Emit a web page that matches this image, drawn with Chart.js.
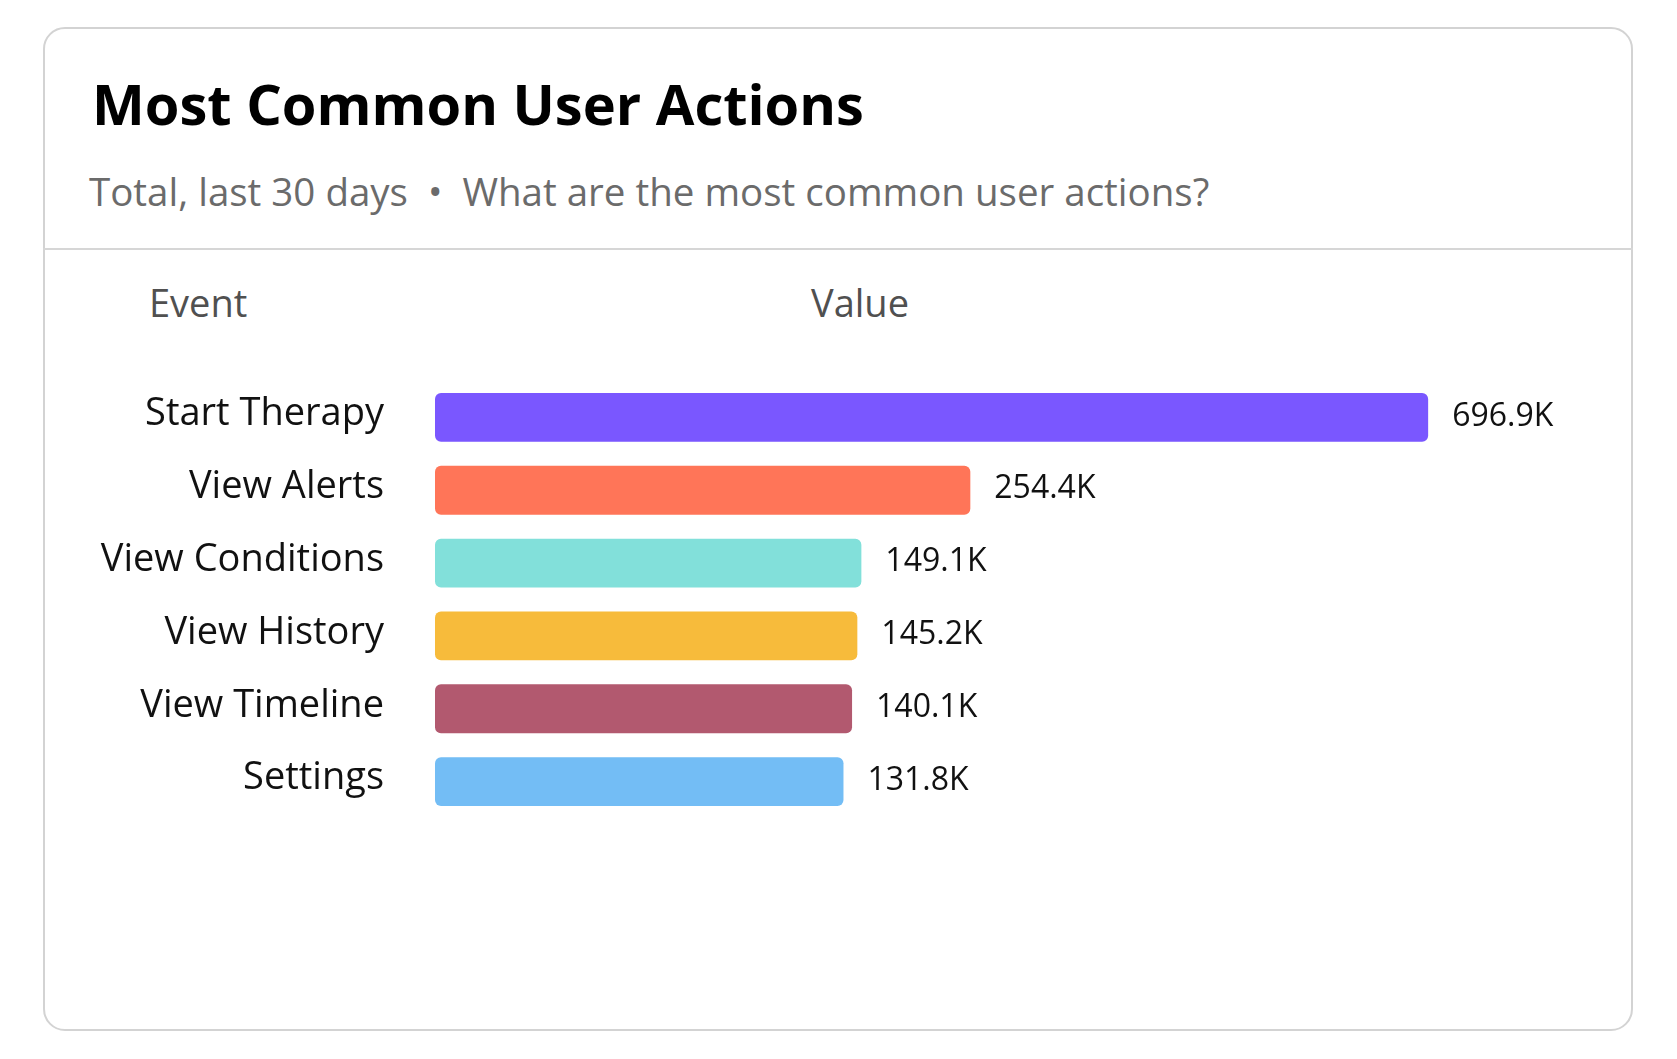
<!DOCTYPE html>
<html>
<head>
<meta charset="utf-8">
<script src="https://cdn.jsdelivr.net/npm/chart.js@4"></script>
<style>
  html, body { margin: 0; padding: 0; background: #fff; }
  body { width: 1677px; height: 1059px; position: relative; font-family: "Open Sans", sans-serif; }
  .card {
    position: absolute; left: 43px; top: 27px; width: 1586px; height: 1000px;
    border: 2px solid #d3d3d3; border-radius: 22px;
  }
  .divider { position: absolute; left: 43px; top: 248px; width: 1590px; height: 2px; background: #d6d6d6; }
  .title { position: absolute; left: 92px; top: 75px; font-size: 56px; line-height: 56px; font-weight: 700; color: #000; white-space: nowrap; }
  .subtitle { position: absolute; left: 89px; top: 172px; font-size: 38.5px; line-height: 38.5px; color: #6b6b6b; white-space: nowrap; }
  .head { position: absolute; top: 283px; font-size: 38px; line-height: 38px; color: #505050; }
  #wrap { position: absolute; left: 0; top: 330px; width: 1677px; height: 540px; }
</style>
</head>
<body>
<div class="card"></div>
<div class="divider"></div>
<div class="title">Most Common User Actions</div>
<div class="subtitle">Total, last 30 days&nbsp; •&nbsp; What are the most common user actions?</div>
<div class="head" style="left:149px">Event</div>
<div class="head" style="left:811px">Value</div>
<div id="wrap"><canvas id="myChart"></canvas></div>

<script>
// Data (values in thousands)
const events = ["Start Therapy", "View Alerts", "View Conditions", "View History", "View Timeline", "Settings"];
const values = [696.9, 254.4, 149.1, 145.2, 140.1, 131.8];
const colors = ["#7a57ff", "#ff7558", "#82e0da", "#f7bb3b", "#b2596f", "#73bdf5"];

// axis range: bars start from a stub, not from zero
const axisMin = -263;
const axisMax = 863;

// Helper: 696.9 -> "696.9K"
function fmt(v) {
    return v.toFixed(1) + "K";
}

// Value labels at the end of each bar
const valueLabels = {
    id: "valueLabels",
    afterDatasetsDraw(chart) {
        const ctx = chart.ctx;
        const meta = chart.getDatasetMeta(0);
        ctx.save();
        ctx.font = '32px "Open Sans"';
        ctx.fillStyle = "#111";
        ctx.textAlign = "left";
        ctx.textBaseline = "middle";
        meta.data.forEach((bar, i) => {
            ctx.fillText(fmt(values[i]), bar.x + 24, bar.y - 1);
        });
        ctx.restore();
    }
};

const ctx = document.getElementById("myChart").getContext("2d");
const chart = new Chart(ctx, {
    type: "bar",
    data: {
        labels: events,
        datasets: [{
            data: values,
            base: axisMin,
            backgroundColor: colors,
            borderRadius: 6,
            borderSkipped: false,
            categoryPercentage: 0.67,
            barPercentage: 1
        }]
    },
    options: {
        indexAxis: "y",
        responsive: true,
        maintainAspectRatio: false,
        animation: false,
        layout: { padding: { top: 51, bottom: 52, left: 0, right: 77 } },
        plugins: {
            legend: { display: false },
            tooltip: { enabled: false }
        },
        scales: {
            x: {
                display: false,
                min: axisMin,
                max: axisMax
            },
            y: {
                afterFit(scale) {
                    scale.width = 435;
                    scale.paddingTop = 0;
                    scale.paddingBottom = 0;
                },
                grid: { display: false, drawTicks: false },
                border: { display: false },
                ticks: {
                    padding: 51,
                    labelOffset: -3,
                    color: "#111",
                    font: { family: "Open Sans", size: 38 }
                }
            }
        }
    },
    plugins: [valueLabels]
});
</script>
</body>
</html>
